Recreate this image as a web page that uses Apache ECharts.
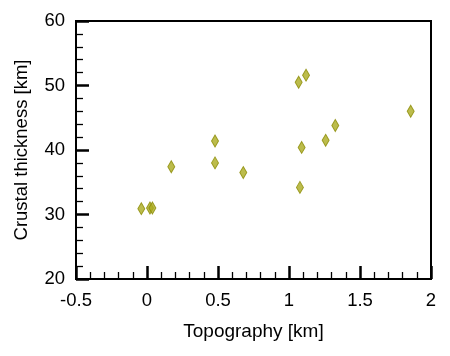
<!DOCTYPE html>
<html><head><meta charset="utf-8">
<script src="https://cdn.jsdelivr.net/npm/echarts@6/dist/echarts.min.js"></script>
<style>html,body{margin:0;padding:0;background:#fff}#c{width:450px;height:356px}</style>
</head><body><div id="c"></div>
<script>
const topography = [-0.04, 0.021, 0.038, 0.171, 0.479, 0.479, 0.678, 1.068, 1.12, 1.089, 1.077, 1.258, 1.326, 1.857];
const crustalThickness = [30.9, 31.0, 31.0, 37.4, 41.4, 38.0, 36.5, 50.5, 51.6, 40.4, 34.2, 41.5, 43.8, 46.0];
const xTicks = [-0.5, 0, 0.5, 1, 1.5, 2];
const yTicks = [20, 30, 40, 50, 60];

const data = topography.map((x, i) => [x, crustalThickness[i]]);
const font = 'Liberation Sans, Arial, Helvetica, sans-serif';
const chart = echarts.init(document.getElementById('c'), null, {renderer: 'canvas'});
chart.setOption({
  animation: false,
  backgroundColor: '#fff',
  grid: {left: 76, right: 19, top: 21, bottom: 77, show: true, borderColor: '#000', borderWidth: 2, backgroundColor: 'transparent'},
  xAxis: {
    type: 'value', min: xTicks[0], max: xTicks[xTicks.length - 1], interval: 0.5,
    name: 'Topography [km]', nameLocation: 'middle', nameGap: 43,
    nameTextStyle: {fontFamily: font, fontSize: 19, color: '#000'},
    axisLine: {show: true, onZero: false, lineStyle: {color: '#000', width: 2}},
    axisTick: {show: true, inside: true, length: 13, lineStyle: {color: '#000', width: 2.5}},
    minorTick: {show: true, splitNumber: 5, length: 7, lineStyle: {color: '#000', width: 1.3}},
    splitLine: {show: false},
    axisLabel: {fontFamily: font, fontSize: 18.5, color: '#000', margin: 12}
  },
  yAxis: {
    type: 'value', min: yTicks[0], max: yTicks[yTicks.length - 1], interval: 10,
    name: 'Crustal thickness [km]', nameLocation: 'middle', nameGap: 45, nameRotate: 90,
    nameTextStyle: {fontFamily: font, fontSize: 18.5, color: '#000'},
    axisLine: {show: true, onZero: false, lineStyle: {color: '#000', width: 2}},
    axisTick: {show: true, inside: true, length: 13, lineStyle: {color: '#000', width: 2.5}},
    minorTick: {show: true, splitNumber: 5, length: 7, lineStyle: {color: '#000', width: 1.3}},
    splitLine: {show: false},
    axisLabel: {fontFamily: font, fontSize: 18.5, color: '#000', margin: 11}
  },
  series: [{
    type: 'scatter',
    data: data,
    symbol: 'diamond',
    symbolSize: [7, 12],
    itemStyle: {color: '#abab1f', borderColor: '#8a8a00', borderWidth: 1}
  }]
});
</script></body></html>
